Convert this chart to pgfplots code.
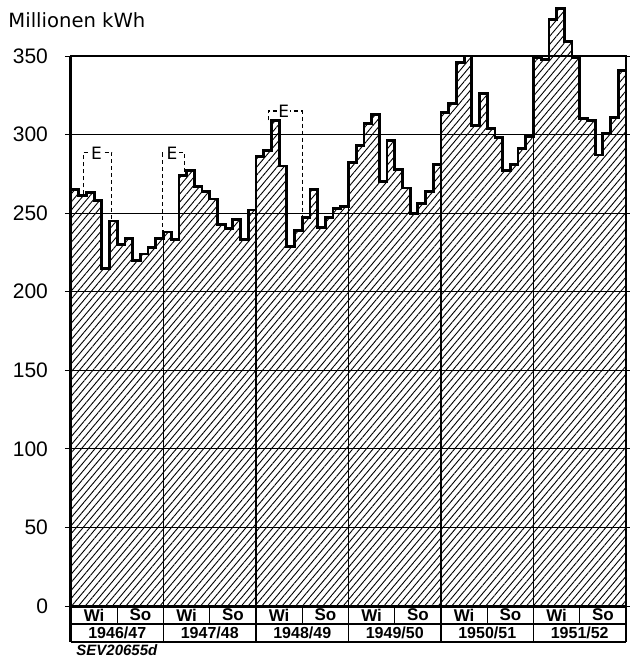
\documentclass[border=0pt]{standalone}
\usepackage{fontspec}
\setmainfont{Liberation Sans}
\newfontfamily\labelfont{DejaVu Sans}
\usepackage{pgfplots}
\pgfplotsset{compat=1.18}
\usetikzlibrary{patterns.meta}

\begin{document}
\begin{tikzpicture}
\useasboundingbox (-35.5pt,-26.5pt) rectangle (279pt,303pt);
\begin{axis}[
  scale only axis, width=277.5pt, height=275pt,
  at={(0,0)}, anchor=south west,
  xmin=0, xmax=72, ymin=0, ymax=350,
  xtick=\empty,
  ytick={0,50,...,350},
  ymajorgrids,
  grid style={line width=0.5pt, black},
  tick align=outside, major tick length=3pt,
  tick style={line width=0.5pt, black},
  yticklabel style={font=\fontsize{10.5}{12}\selectfont, xshift=-5pt},
  /pgf/number format/assume math mode=true,
  axis line style={line width=0.7pt},
  clip=false, axis on top,
]

% monthly production, Oct 1946 .. Sep 1952
\addplot[const plot, draw=black, line width=1.4pt,
  pattern={Lines[angle=50, distance=2.6pt, line width=0.45pt]}] coordinates {
  (0,265) (1,261) (2,263) (3,258) (4,215) (5,245)
  (6,230) (7,234) (8,220) (9,224) (10,228) (11,234)
  (12,238) (13,233) (14,274) (15,277) (16,267) (17,264)
  (18,259) (19,243) (20,240) (21,246) (22,233) (23,252)
  (24,286) (25,290) (26,309) (27,280) (28,229) (29,239)
  (30,247) (31,265) (32,241) (33,247) (34,253) (35,254)
  (36,282) (37,293) (38,307) (39,313) (40,270) (41,296)
  (42,278) (43,266) (44,250) (45,256) (46,264) (47,281)
  (48,314) (49,320) (50,346) (51,350) (52,306) (53,326)
  (54,304) (55,298) (56,277) (57,281) (58,291) (59,299)
  (60,349) (61,348) (62,373) (63,380) (64,359) (65,349)
  (66,310) (67,309) (68,287) (69,301) (70,311) (71,341)
  (72,341)
} \closedcycle;

% year boundaries
\addplot[line width=0.7pt] coordinates {(12,0) (12,239)};
\addplot[line width=0.7pt] coordinates {(24,0) (24,286)};
\addplot[line width=0.7pt] coordinates {(36,0) (36,282)};
\addplot[line width=0.7pt] coordinates {(48,0) (48,314)};
\addplot[line width=0.7pt] coordinates {(60,0) (60,349)};

% dashed boxes "E"
\addplot[line width=0.6pt, dash pattern=on 2pt off 1.5pt] coordinates {(1.6,262) (1.6,288.5) (5.3,288.5) (5.3,245)};
\addplot[line width=0.6pt, dash pattern=on 2pt off 1.5pt] coordinates {(11.85,237) (11.85,288.5) (14.75,288.5) (14.75,275)};
\addplot[line width=0.6pt, dash pattern=on 2pt off 1.5pt] coordinates {(25.6,309) (25.6,315) (30,315) (30,247)};
\node[fill=white, inner sep=0.6pt, font=\labelfont\fontsize{8.5}{9}\selectfont] at (axis cs:3.3,288) {E};
\node[fill=white, inner sep=0.6pt, font=\labelfont\fontsize{8.5}{9}\selectfont] at (axis cs:13.1,288) {E};
\node[fill=white, inner sep=0.6pt, font=\labelfont\fontsize{8.5}{9}\selectfont] at (axis cs:27.6,314.5) {E};

% heavy left and bottom axis lines
\draw[line width=1.5pt] (axis cs:0,350) -- (axis cs:0,-22.9);
\draw[line width=1.5pt] (axis cs:0,0) -- (axis cs:72,0);

% table below the axis
\draw[line width=0.6pt] (axis cs:0,-11.45) -- (axis cs:72,-11.45);
\draw[line width=0.9pt] (axis cs:0,-22.9) -- (axis cs:72,-22.9);
\draw[line width=0.7pt] (axis cs:72,0) -- (axis cs:72,-22.9);
\pgfplotsinvokeforeach{12,24,36,48,60}{
  \draw[line width=0.6pt] (axis cs:#1,0) -- (axis cs:#1,-22.9);
}
\pgfplotsinvokeforeach{6,18,30,42,54,66}{
  \draw[line width=0.6pt] (axis cs:#1,0) -- (axis cs:#1,-11.45);
}
\pgfplotsinvokeforeach{3,15,27,39,51,63}{
  \node[font=\fontsize{8.5}{9}\selectfont\bfseries] at (axis cs:#1,-5.7) {Wi};
}
\pgfplotsinvokeforeach{9,21,33,45,57,69}{
  \node[font=\fontsize{8.5}{9}\selectfont\bfseries] at (axis cs:#1,-5.7) {So};
}
\node[font=\fontsize{8}{9}\selectfont\bfseries] at (axis cs:6,-17.2) {1946/47};
\node[font=\fontsize{8}{9}\selectfont\bfseries] at (axis cs:18,-17.2) {1947/48};
\node[font=\fontsize{8}{9}\selectfont\bfseries] at (axis cs:30,-17.2) {1948/49};
\node[font=\fontsize{8}{9}\selectfont\bfseries] at (axis cs:42,-17.2) {1949/50};
\node[font=\fontsize{8}{9}\selectfont\bfseries] at (axis cs:54,-17.2) {1950/51};
\node[font=\fontsize{8}{9}\selectfont\bfseries] at (axis cs:66,-17.2) {1951/52};

\node[anchor=base west, inner sep=0pt, font=\fontsize{7.5}{8}\selectfont\bfseries\itshape]
  at (axis cs:0,-31.2) [xshift=2.5pt] {SEV20655d};
\node[anchor=base west, inner sep=0pt, font=\labelfont\fontsize{9.8}{11}\selectfont]
  at (rel axis cs:0,1) [xshift=-31.5pt, yshift=14.5pt] {Millionen kWh};
\end{axis}
\end{tikzpicture}
\end{document}
